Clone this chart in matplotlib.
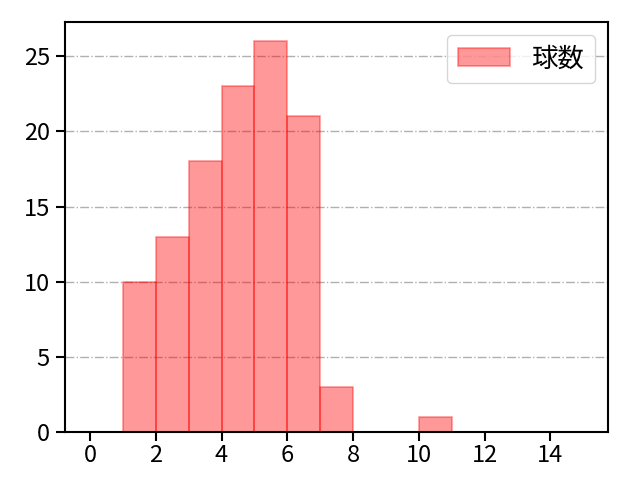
import matplotlib
matplotlib.use("Agg")
import matplotlib.pyplot as plt

plt.rcParams['font.family'] = ['Noto Sans CJK JP', 'DejaVu Sans']

bin_edges = list(range(0, 15))
counts = [0, 10, 13, 18, 23, 26, 21, 3, 0, 0, 1, 0, 0, 0, 0]
label = "球数"

fig, ax = plt.subplots(figsize=(6.4, 4.8), dpi=100)
ax.bar(bin_edges, counts, width=1, align='edge', color='red', alpha=0.4,
       edgecolor='red', linewidth=1.2, label=label)
ax.set_xlim(-0.75, 15.75)
ax.set_xticks(range(0, 15, 2))
ax.yaxis.grid(True, linestyle='-.', color='#b0b0b0', linewidth=1.0)
ax.set_axisbelow(True)
for s in ax.spines.values():
    s.set_linewidth(1.5)
ax.tick_params(labelsize=17, width=1.5, length=6.5)
ax.tick_params(axis='x', pad=2)
ax.tick_params(axis='y', pad=4.5)
ax.legend(loc='upper right', fontsize=19, borderpad=0.4, framealpha=0.8,
          edgecolor='#cccccc', fancybox=True)
fig.subplots_adjust(left=0.102, right=0.95, top=0.955, bottom=0.1)
fig.savefig("out.png")
